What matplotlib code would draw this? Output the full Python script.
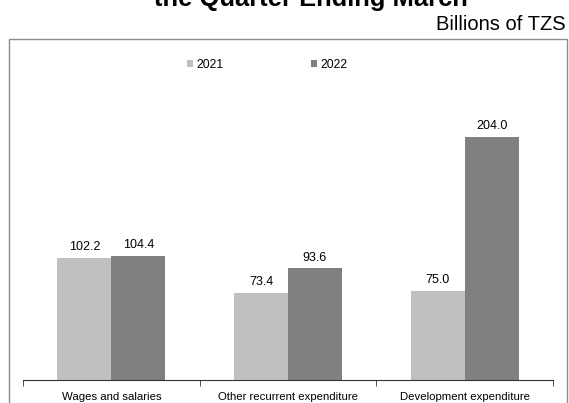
import numpy as np
import matplotlib.pyplot as plt
from matplotlib.patches import Rectangle

plt.rcParams['font.family'] = ['Liberation Sans', 'DejaVu Sans']

categories = ["Wages and salaries", "Other recurrent expenditure", "Development expenditure"]
years = ["2021", "2022"]
vals_2021 = [102.2, 73.4, 75.0]
vals_2022 = [104.4, 93.6, 204.0]
colors = ["#c0c0c0", "#808080"]

W, H = 569, 403
fig = plt.figure(figsize=(W/100, H/100), dpi=100)

# outer frame (bottom runs off the picture)
fig.patches.append(Rectangle((9/W, -0.02), 558/W, 1 - 39/H + 0.02,
                             transform=fig.transFigure, fill=False,
                             edgecolor="#8c8c8c", linewidth=1.0))

ax = fig.add_axes([23/W, 23/H, 530/W, 298/H])
x = np.arange(len(categories))
w = 0.305
b1 = ax.bar(x - w/2, vals_2021, w, color=colors[0], label=years[0])
b2 = ax.bar(x + w/2, vals_2022, w, color=colors[1], label=years[1])
for bars, vals in [(b1, vals_2021), (b2, vals_2022)]:
    for r, v in zip(bars, vals):
        ax.text(r.get_x() + r.get_width()/2, v + 6.5, "%.1f" % v,
                ha="center", va="baseline", fontsize=9)

ax.set_xlim(-0.5, 2.5)
ax.set_ylim(0, 250)
ax.set_yticks([])
for s in ["top", "right", "left"]:
    ax.spines[s].set_visible(False)
ax.spines["bottom"].set_color("#333333")
ax.set_xticks(x)
ax.set_xticklabels(categories, fontsize=8.2)
ax.tick_params(axis="x", which="major", length=0, pad=9)
ax.set_xticks([-0.5, 0.5, 1.5, 2.5], minor=True)
ax.tick_params(axis="x", which="minor", length=4, color="#333333")
ax.patch.set_alpha(0)

ax.legend(loc="center left", bbox_to_anchor=(187/W, 1 - 65/H),
          bbox_transform=fig.transFigure, ncol=2, frameon=False,
          fontsize=8.7, handlelength=0.5, handleheight=0.55,
          handletextpad=0.25, columnspacing=7.3, borderpad=0,
          borderaxespad=0)

fig.text(311/W, 1 - 6/H, "the Quarter Ending March", ha="center",
         va="baseline", fontsize=18.4, fontweight="bold")
fig.text(566/W, 1 - 24/H, "Billions of TZS", ha="right", va="center",
         fontsize=14.5)

fig.savefig("out.png", dpi=100)
